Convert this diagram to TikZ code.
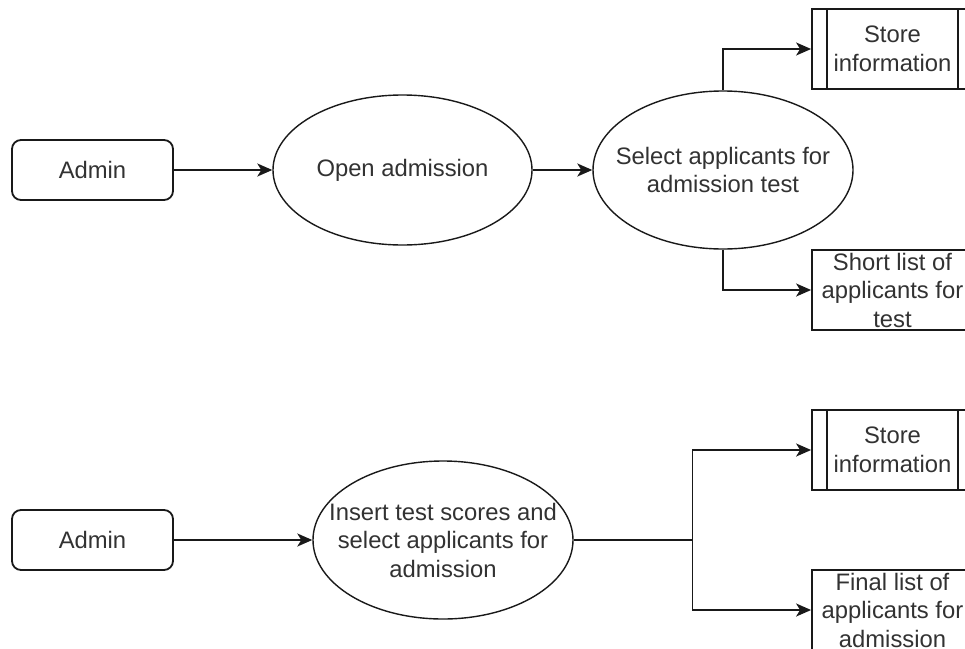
\documentclass[tikz,border=0pt]{standalone}
\usepackage{fontspec}
\setmainfont{Liberation Sans}
\usetikzlibrary{shapes.geometric,arrows.meta}
\definecolor{ink}{RGB}{25,25,25}
\definecolor{txt}{RGB}{50,50,50}
\tikzset{
  actor/.style={draw=ink, line width=1.8pt, rounded corners=9pt, minimum width=161pt, minimum height=60pt, inner sep=0pt},
  proc/.style={draw=ink, line width=1.4pt, ellipse, inner sep=0pt},
  store/.style={draw=ink, line width=1.8pt, minimum width=161pt, minimum height=80pt, inner sep=0pt},
  lbl/.style={align=center, text=txt, inner sep=0pt, font=\fontsize{23.8}{28.5}\selectfont},
  arr/.style={draw=ink, line width=1.8pt, -{Stealth[length=15pt,width=13pt,inset=4pt]}},
  conn/.style={draw=ink, line width=1.8pt},
}
\begin{document}
\begin{tikzpicture}[x=1pt,y=-1pt]
\useasboundingbox (0,0) rectangle (965,648);
\clip (0,0) rectangle (965,648);
\fill[white] (0,0) rectangle (965,648);

% first flow: opening admission
\node[actor] (A1) at (92.5,170) {};
\node[lbl] (A1t) at (A1) {Admin};
\node[proc, minimum width=259pt, minimum height=150pt] (E1) at (402.5,170) {};
\node[lbl] (E1t) at (E1) {Open admission};
\node[proc, minimum width=260pt, minimum height=158pt] (E2) at (723,170) {};
\node[lbl] (E2t) at (E2) {Select applicants for\\admission test};

\node[store] (S1) at (892.5,49) {};
\draw[conn] ([xshift=16pt]S1.north west) -- ([xshift=16pt]S1.south west);
\draw[conn] ([xshift=-16pt]S1.north east) -- ([xshift=-16pt]S1.south east);
\node[lbl] (S1t) at (S1) {Store\\information};

\node[store] (L1) at (892.5,290) {};
\node[lbl] (L1t) at (L1) {Short list of\\applicants for\\test};

\draw[arr] (A1.east) -- (E1.west);
\draw[arr] (E1.east) -- (E2.west);
\draw[arr] (E2.north) |- (S1.west);
\draw[arr] (E2.south) |- (L1.west);

% second flow: final selection
\node[actor] (A2) at (92.5,540) {};
\node[lbl] (A2t) at (A2) {Admin};
\node[proc, minimum width=260pt, minimum height=158pt] (E3) at (443,540) {};
\node[lbl] (E3t) at (E3) {Insert test scores and\\select applicants for\\admission};

\node[store] (S2) at (892.5,450) {};
\draw[conn] ([xshift=16pt]S2.north west) -- ([xshift=16pt]S2.south west);
\draw[conn] ([xshift=-16pt]S2.north east) -- ([xshift=-16pt]S2.south east);
\node[lbl] (S2t) at (S2) {Store\\information};

\node[store] (L2) at (892.5,610) {};
\node[lbl] (L2t) at (L2) {Final list of\\applicants for\\admission};

\coordinate (J) at (692.5,540);
\draw[arr] (A2.east) -- (E3.west);
\draw[conn] (E3.east) -- (J);
\draw[arr] (J) |- (S2.west);
\draw[arr] (J) |- (L2.west);
\end{tikzpicture}
\end{document}
